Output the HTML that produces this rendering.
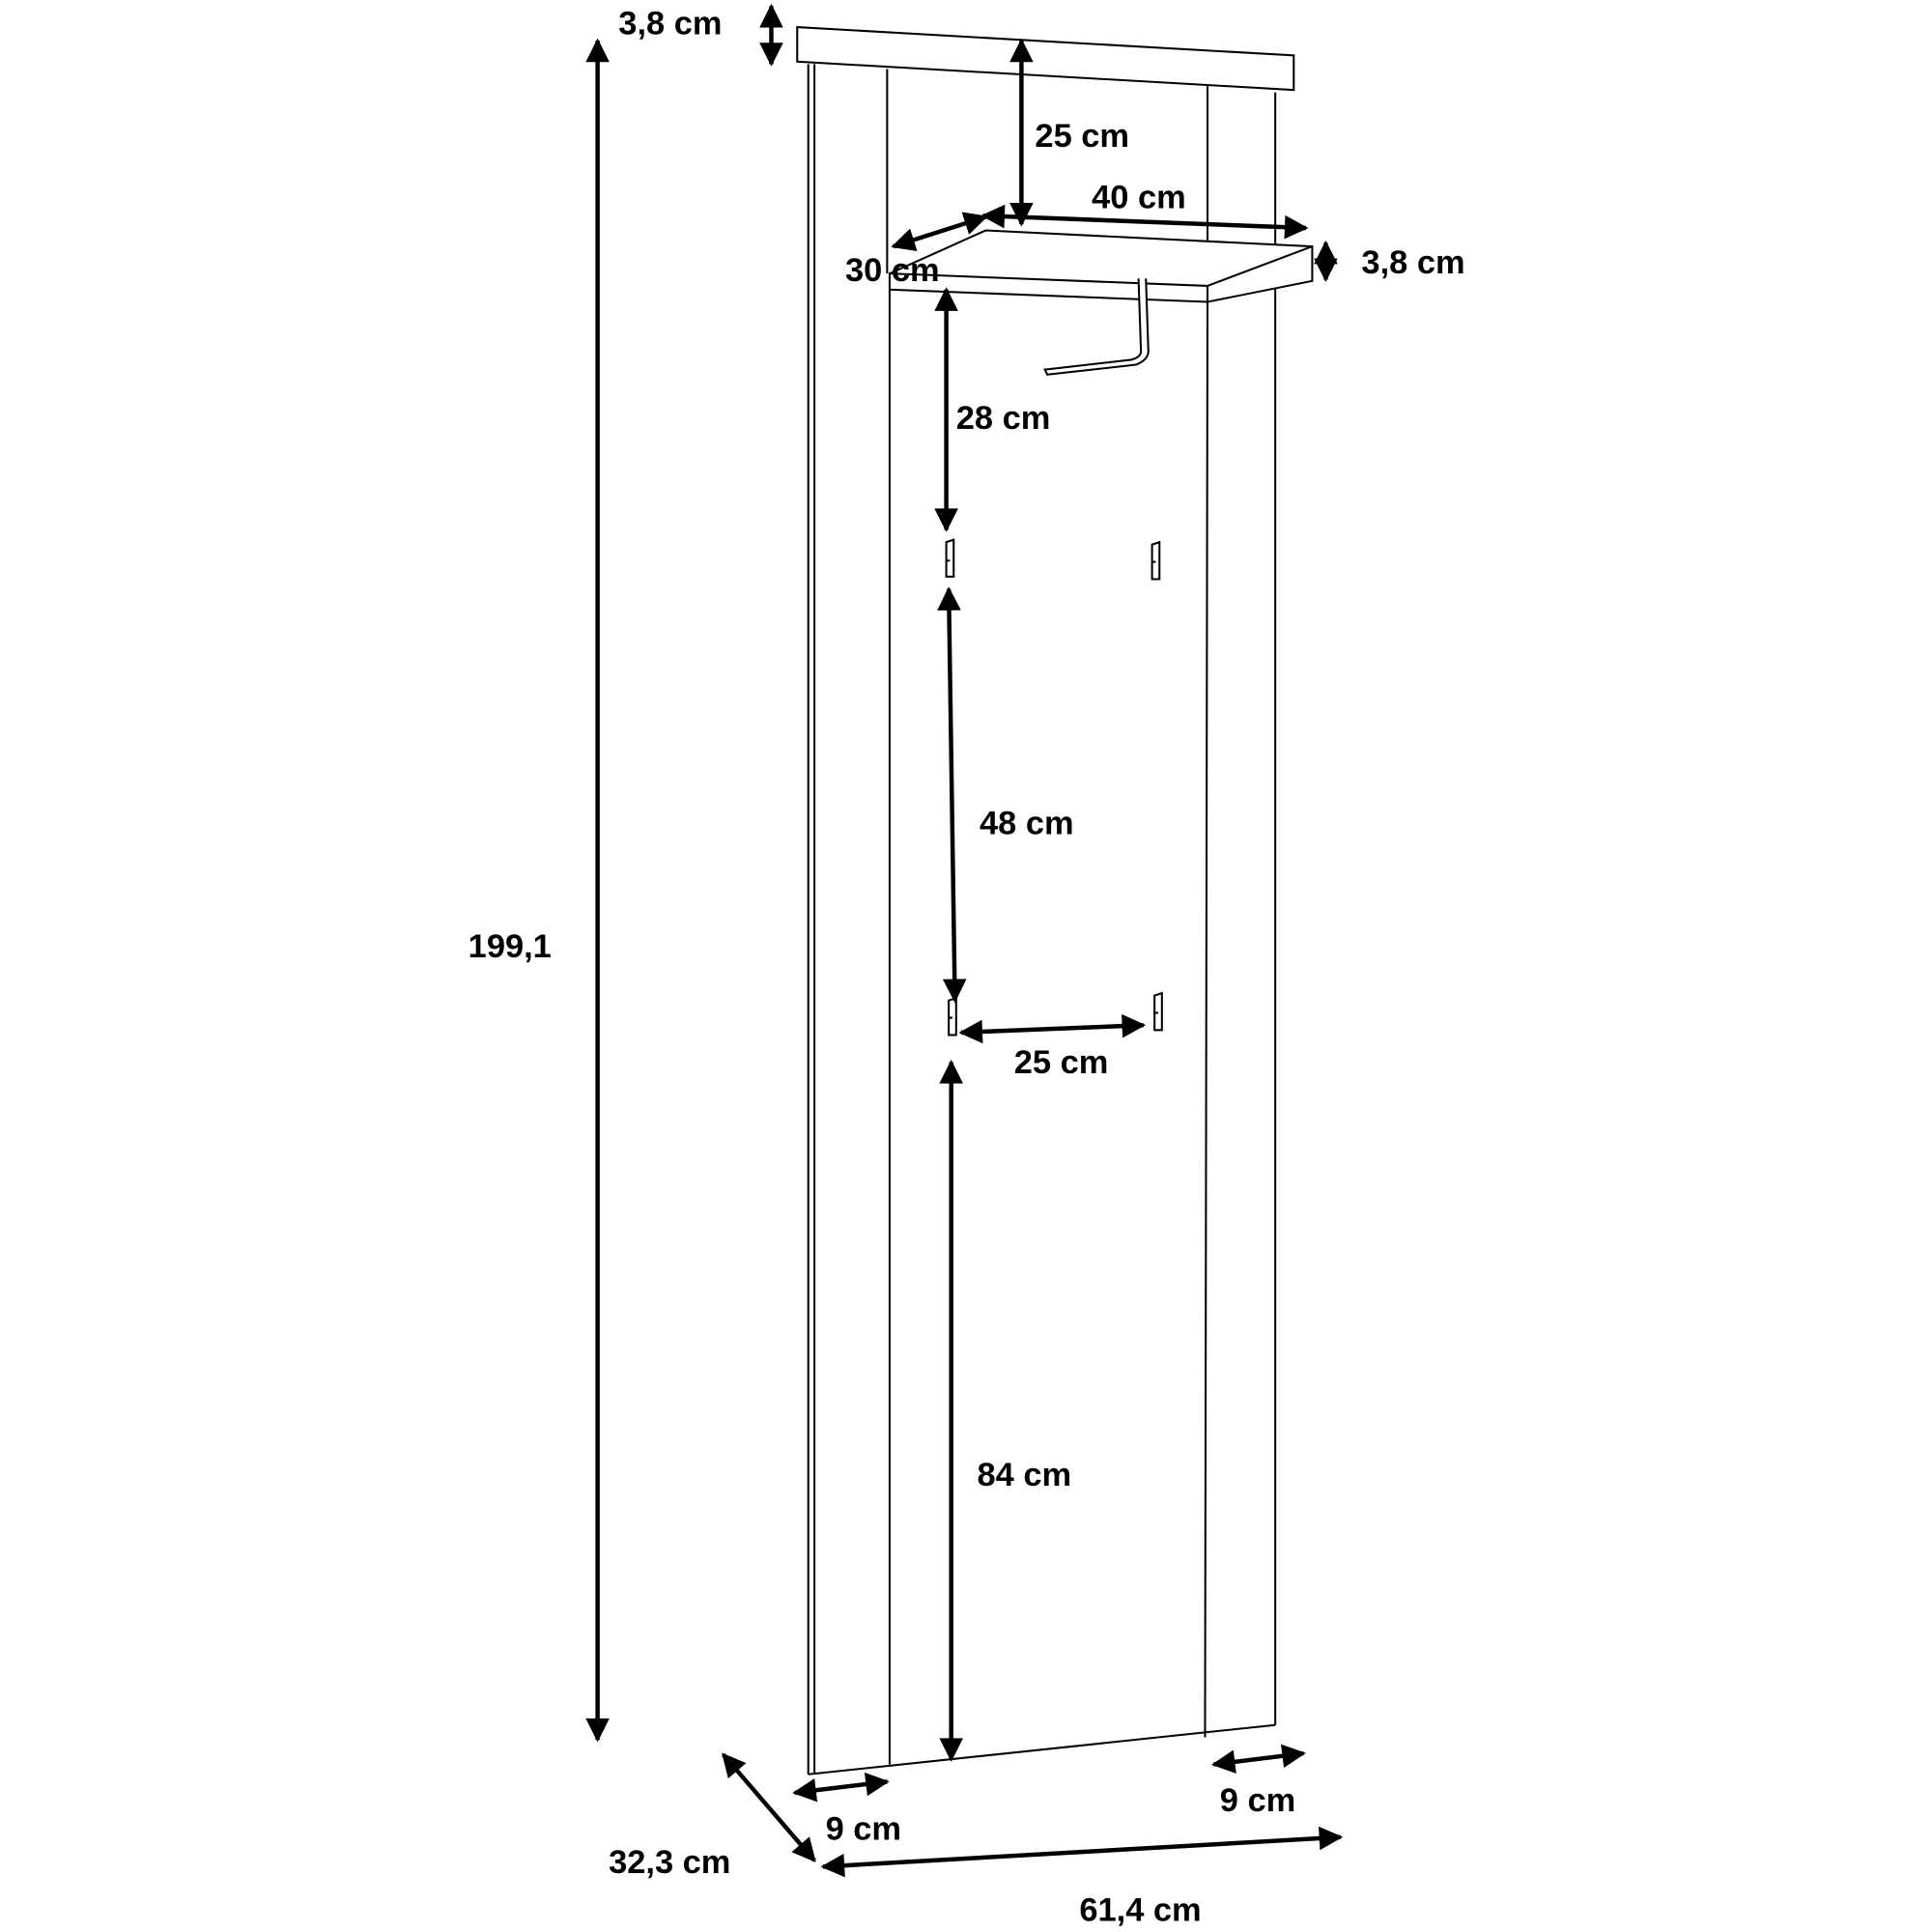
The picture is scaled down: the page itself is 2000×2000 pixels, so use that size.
<!DOCTYPE html>
<html><head><meta charset="utf-8"><style>
html,body{margin:0;padding:0;background:#fff}
svg{display:block}
text{font-family:"Liberation Sans",sans-serif;font-weight:bold;font-size:27px;fill:#000}
</style></head><body>
<svg width="2000" height="2000" viewBox="0 0 1568 1568" xmlns="http://www.w3.org/2000/svg">
<defs>
<marker id="a" viewBox="0 0 10 10" refX="9" refY="5" markerWidth="7" markerHeight="5.5" orient="auto-start-reverse" markerUnits="strokeWidth"><path d="M0,0 L10,5 L0,10 z" fill="#000"/></marker>
</defs>
<g fill="none" stroke="#000" stroke-width="1.6">
<polygon points="647,22 1050,45 1050,73 647,50" fill="#fff"/>
<line x1="656" y1="52" x2="656" y2="1440"/>
<line x1="661" y1="52" x2="661" y2="1440"/>
<line x1="720" y1="56" x2="720" y2="222"/>
<line x1="722" y1="235" x2="722" y2="1432"/>
<line x1="980" y1="70" x2="980" y2="195"/>
<line x1="980" y1="245" x2="978" y2="1410"/>
<line x1="1035" y1="75" x2="1035" y2="200"/>
<line x1="1035" y1="230" x2="1035" y2="1400"/>
<line x1="656" y1="1440" x2="1035" y2="1400"/>
<polygon points="722,222 800,187 1065,200 1065,228 980,245 722,235" fill="#fff"/>
<line x1="722" y1="222" x2="980" y2="232"/>
<line x1="980" y1="232" x2="1065" y2="200"/>
<line x1="980" y1="232" x2="980" y2="245"/>
<path d="M924,226 L926,285 Q926,290 918,292 L848,300 L850,304 L922,296 Q932,292 932,285 L930,226" fill="#fff"/>
<path d="M768,440 L768,468 L774,468 L774,438 Z M768,455 L771,455" fill="#fff"/>
<path d="M935,442 L935,470 L941,470 L941,440 Z M935,456 L938,456" fill="#fff"/>
<path d="M770,812 L770,840 L776,840 L776,810 Z M770,826 L773,826" fill="#fff"/>
<path d="M937,808 L937,836 L943,836 L943,806 Z M937,822 L940,822" fill="#fff"/>
</g>
<g stroke="#000" stroke-width="3.5" fill="none">
<line x1="485" y1="33" x2="485" y2="1412" marker-start="url(#a)" marker-end="url(#a)"/>
<line x1="626" y1="5" x2="626" y2="52" marker-start="url(#a)" marker-end="url(#a)"/>
<line x1="829" y1="33" x2="829" y2="182" marker-start="url(#a)" marker-end="url(#a)"/>
<line x1="798" y1="175" x2="1060" y2="185" marker-start="url(#a)" marker-end="url(#a)"/>
<line x1="725" y1="200" x2="800" y2="176" marker-start="url(#a)" marker-end="url(#a)"/>
<line x1="1076" y1="197" x2="1076" y2="227" marker-start="url(#a)" marker-end="url(#a)"/>
<line x1="768" y1="235" x2="768" y2="430" marker-start="url(#a)" marker-end="url(#a)"/>
<line x1="770" y1="478" x2="775" y2="812" marker-start="url(#a)" marker-end="url(#a)"/>
<line x1="780" y1="838" x2="928" y2="832" marker-start="url(#a)" marker-end="url(#a)"/>
<line x1="772" y1="862" x2="772" y2="1428" marker-start="url(#a)" marker-end="url(#a)"/>
<line x1="645" y1="1455" x2="720" y2="1446" marker-start="url(#a)" marker-end="url(#a)"/>
<line x1="985" y1="1432" x2="1058" y2="1423" marker-start="url(#a)" marker-end="url(#a)"/>
<line x1="587" y1="1424" x2="661" y2="1510" marker-start="url(#a)" marker-end="url(#a)"/>
<line x1="668" y1="1515" x2="1088" y2="1491" marker-start="url(#a)" marker-end="url(#a)"/>
</g>
<text x="502" y="28">3,8 cm</text>
<text x="840" y="119">25 cm</text>
<text x="886" y="169">40 cm</text>
<text x="686" y="228">30 cm</text>
<text x="1105" y="222">3,8 cm</text>
<text x="776" y="348">28 cm</text>
<text x="795" y="677">48 cm</text>
<text x="823" y="871">25 cm</text>
<text x="380" y="777">199,1</text>
<text x="793" y="1206">84 cm</text>
<text x="670" y="1493">9 cm</text>
<text x="990" y="1470">9 cm</text>
<text x="494" y="1520">32,3 cm</text>
<text x="876" y="1559">61,4 cm</text>
</svg>
</body></html>
